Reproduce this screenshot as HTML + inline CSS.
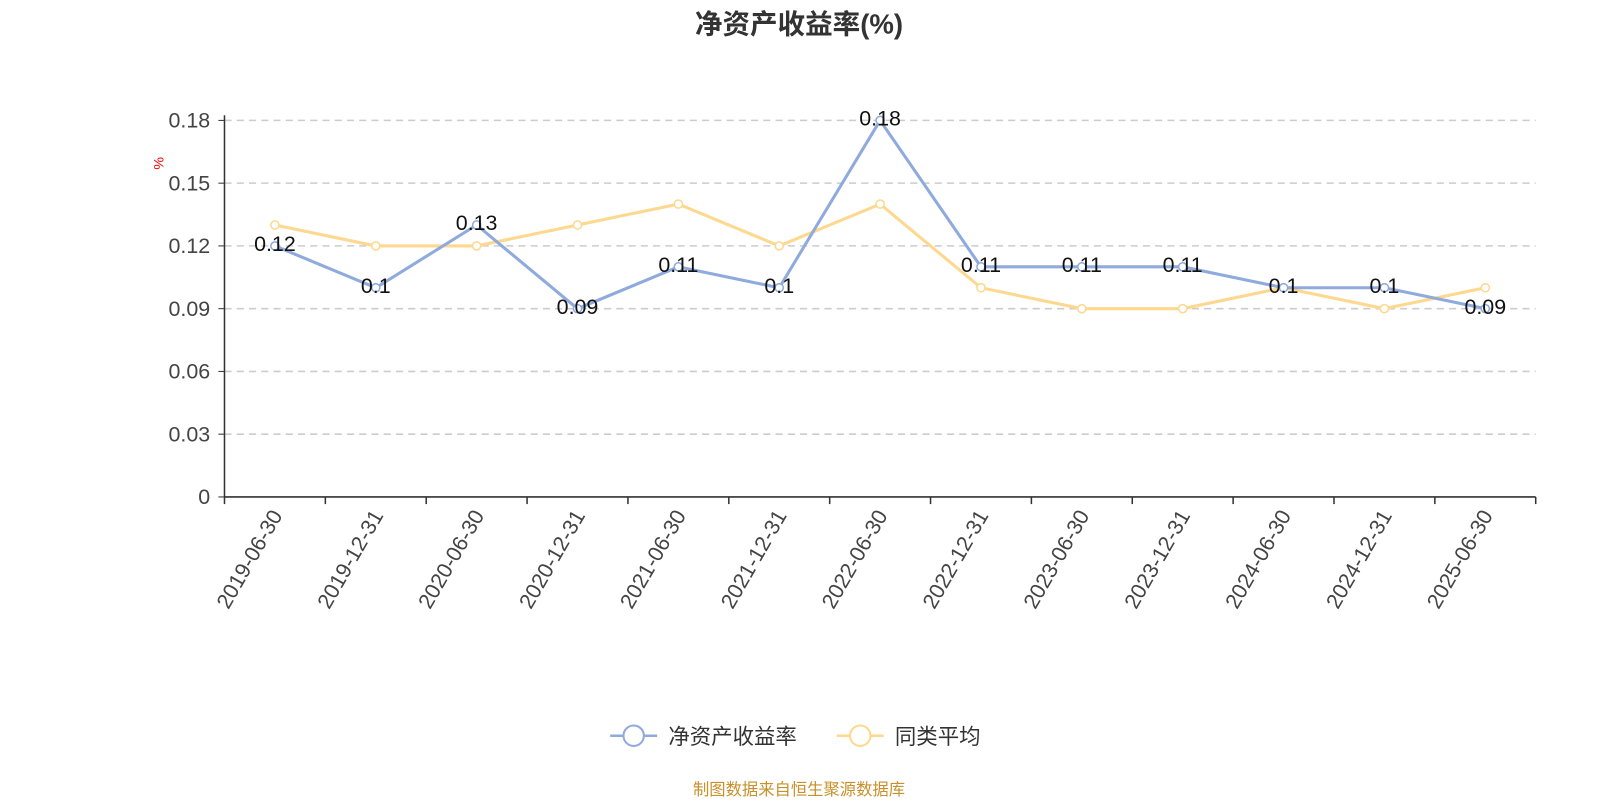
<!DOCTYPE html>
<html><head><meta charset="utf-8"><style>
body{margin:0;background:#fff;font-family:"Liberation Sans","Noto Sans CJK SC",sans-serif;}
svg text{font-family:"Liberation Sans","Noto Sans CJK SC",sans-serif;}
</style></head><body>
<svg id="chart" width="1600" height="800" viewBox="0 0 1568 784">
<text x="783" y="33" text-anchor="middle" font-size="27" font-weight="bold" fill="#333">净资产收益率(%)</text>
<text x="160" y="160" font-size="14" fill="#e00" transform="rotate(-90 160 160)" text-anchor="middle">%</text>
<g id="grid"></g><g id="axes"></g><g id="series"></g>
<g>
<g>
<line x1="598" y1="721" x2="644" y2="721" stroke="#8faadc" stroke-width="2.5"/>
<circle cx="621" cy="721" r="10" fill="#fff" stroke="#8faadc" stroke-width="2"/>
<text x="655" y="729" font-size="21" fill="#333">净资产收益率</text></g>
<g>
<line x1="820" y1="721" x2="866" y2="721" stroke="#fdd88e" stroke-width="2.5"/>
<circle cx="843" cy="721" r="10" fill="#fff" stroke="#fdd88e" stroke-width="2"/>
<text x="877" y="729" font-size="21" fill="#333">同类平均</text></g>
</g>
<text x="783" y="779" text-anchor="middle" font-size="16" fill="#c8902a">制图数据来自恒生聚源数据库</text>
</svg>
<script>
const categories=["2019-06-30","2019-12-31","2020-06-30","2020-12-31","2021-06-30","2021-12-31","2022-06-30","2022-12-31","2023-06-30","2023-12-31","2024-06-30","2024-12-31","2025-06-30"];
const roeValues=[0.12,0.10,0.13,0.09,0.11,0.10,0.18,0.11,0.11,0.11,0.10,0.10,0.09];
const avgValues=[0.13,0.12,0.12,0.13,0.14,0.12,0.14,0.10,0.09,0.09,0.10,0.09,0.10];
const yTicks=[0,0.03,0.06,0.09,0.12,0.15,0.18];
const yTickLabels=["0","0.03","0.06","0.09","0.12","0.15","0.18"];
const NS="http://www.w3.org/2000/svg";
const L=220,R=1505,T=118,B=487,yMax=0.18;
const band=(R-L)/categories.length;
const xs=i=>L+band*(i+0.5);
const ys=v=>B-(v/yMax)*(B-T);
function mk(tag,attrs,parent){const e=document.createElementNS(NS,tag);for(const k in attrs)e.setAttribute(k,attrs[k]);parent.appendChild(e);return e;}
const grid=document.getElementById('grid'),axes=document.getElementById('axes'),ser=document.getElementById('series');
yTicks.forEach((v,i)=>{
 if(v>0){const g=mk('line',{x1:L,x2:R,y1:ys(v),y2:ys(v),stroke:'#ccc','stroke-dasharray':'7,5','stroke-width':1.5},grid);
 
 }
 const t=mk('text',{x:L-14,y:ys(v)+7,'text-anchor':'end','font-size':21,fill:'#444'},axes);t.textContent=yTickLabels[i];
 
 
 mk('line',{x1:L-6,x2:L,y1:ys(v),y2:ys(v),stroke:'#333'},axes);
});
const ya=mk('line',{x1:L,x2:L,y1:T-5,y2:B,stroke:'#333','stroke-width':1.5},axes);


const xa=mk('line',{x1:L,x2:R,y1:B,y2:B,stroke:'#333','stroke-width':1.5},axes);


for(let i=0;i<=categories.length;i++)mk('line',{x1:L+band*i,x2:L+band*i,y1:B,y2:B+7,stroke:'#333','stroke-width':1.5},axes);
categories.forEach((c,i)=>{
 const x=xs(i),y=B+18;
 const t=mk('text',{x:x+8,y:y,'text-anchor':'end','font-size':21,fill:'#444',transform:`rotate(-60 ${x+8} ${y})`},axes);t.textContent=c;
 
 
});
function drawSeries(vals,color,name){
 const pts=vals.map((v,i)=>xs(i)+','+ys(v)).join(' ');
 const pl=mk('polyline',{points:pts,fill:'none',stroke:color,'stroke-width':3},ser);
 
 
 vals.forEach((v,i)=>{
  const c=mk('circle',{cx:xs(i),cy:ys(v),r:4,fill:'#fff',stroke:color,'stroke-width':1.5},ser);
  
  
 });
}
drawSeries(avgValues,'#fdd88e','average');
drawSeries(roeValues,'#8faadc','roe');
roeValues.forEach((v,i)=>{
 const t=mk('text',{x:xs(i),y:ys(v)+5,'text-anchor':'middle','font-size':21,fill:'#111'},ser);t.textContent=String(v);
 
 
});
</script>
</body></html>
